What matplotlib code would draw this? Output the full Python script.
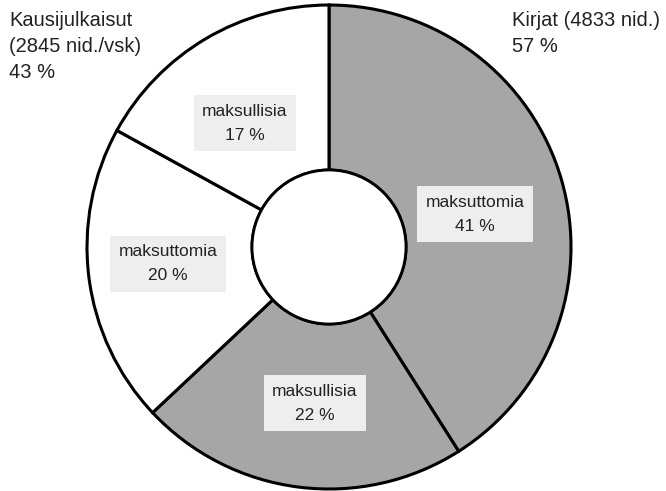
import matplotlib.pyplot as plt
from matplotlib.patches import Circle

# Osuudet, järjestys kellon suuntaan klo 12:sta alkaen
slice_labels = ["maksuttomia", "maksullisia", "maksuttomia", "maksullisia"]
slice_values = [41, 22, 20, 17]
slice_colors = ["#a6a6a6", "#a6a6a6", "#ffffff", "#ffffff"]

group_labels = ["Kirjat (4833 nid.)\n57 %", "Kausijulkaisut\n(2845 nid./vsk)\n43 %"]

W, H = 666, 491
plt.rcParams["font.family"] = ["Liberation Sans", "DejaVu Sans"]

fig = plt.figure(figsize=(W / 100, H / 100), dpi=100)
ax = fig.add_axes([0, 0, 1, 1])

cx, cy = 329, H - 247
R, r_in = 242, 77

ax.pie(slice_values, colors=slice_colors, startangle=90, counterclock=False,
       center=(cx, cy), radius=R,
       wedgeprops=dict(width=R - r_in, edgecolor="black", linewidth=2.2))
ax.add_patch(Circle((cx, cy), r_in, facecolor="white", edgecolor="black", linewidth=2.0, zorder=5))

# labelien paikat pikseleinä (x, y ylhäältä)
label_pos = [(475, 214), (315, 403), (168, 264), (245, 123)]
for (x, y), lab, val in zip(label_pos, slice_labels, slice_values):
    ax.text(x, H - y, f"{lab}\n{val} %", ha="center", va="center", fontsize=12.5,
            linespacing=1.75, color="#222222", zorder=6,
            bbox=dict(boxstyle="square,pad=0.5", facecolor="#eeeeee", edgecolor="none"))

ax.text(512, H - 11, group_labels[0], ha="left", va="top", fontsize=14.5,
        linespacing=1.45, color="#222222")
ax.text(9, H - 11, group_labels[1], ha="left", va="top", fontsize=14.5,
        linespacing=1.45, color="#222222")

ax.set_xlim(0, W)
ax.set_ylim(0, H)
ax.set_aspect("equal")
ax.axis("off")

fig.savefig("out.png", dpi=100)
